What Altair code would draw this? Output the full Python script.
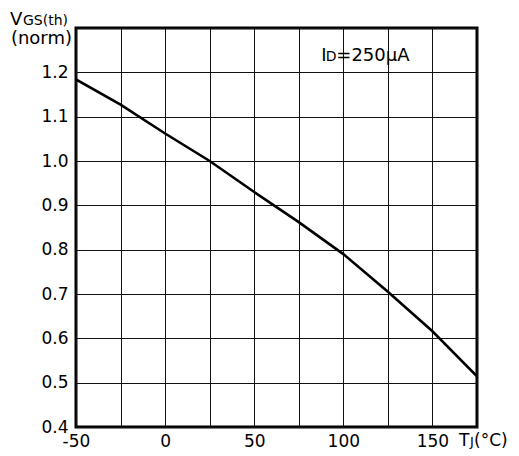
import altair as alt
import pandas as pd

# Data
tj = [-50, -25, 0, 25, 50, 75, 100, 125, 150, 175]
vgs_norm = [1.184, 1.127, 1.062, 1.000, 0.930, 0.862, 0.790, 0.705, 0.616, 0.514]

x_ticks = [-50, -25, 0, 25, 50, 75, 100, 125, 150, 175]
y_ticks = [0.4, 0.5, 0.6, 0.7, 0.8, 0.9, 1.0, 1.1, 1.2, 1.3]

df = pd.DataFrame({"tj": tj, "v": vgs_norm})

FONT = "DejaVu Sans"

xscale = alt.Scale(domain=[-50, 175], nice=False, zero=False)
yscale = alt.Scale(domain=[0.4, 1.3], nice=False, zero=False)

xaxis = alt.Axis(
    values=x_ticks,
    labelExpr="(datum.value % 50 == 0 && datum.value < 175) ? '' + datum.value : ''",
    title=None, grid=True, gridColor="#111111", gridWidth=1, gridOpacity=1,
    domain=False, ticks=False, labelPadding=19, labelBaseline="alphabetic",
    labelFontSize=17, labelFont=FONT, labelColor="black",
    labelFlush=False, labelOverlap=False,
)
yaxis = alt.Axis(
    values=y_ticks,
    labelExpr="datum.value < 1.25 ? format(datum.value, '.1f') : ''",
    title=None, grid=True, gridColor="#111111", gridWidth=1, gridOpacity=1,
    domain=False, ticks=False, labelPadding=8, labelFontSize=17,
    labelFont=FONT, labelColor="black", labelFlush=False, labelOverlap=False,
)

curve = alt.Chart(df).mark_line(color="black", strokeWidth=2.6, clip=True).encode(
    x=alt.X("tj:Q", scale=xscale, axis=xaxis),
    y=alt.Y("v:Q", scale=yscale, axis=yaxis),
)

def txt(s, xv, yv, dx, dy, size, align="left"):
    return alt.Chart(pd.DataFrame({"t": [s]})).mark_text(
        text=s, align=align, baseline="alphabetic", dx=dx, dy=dy,
        fontSize=size, font=FONT, color="black",
    ).encode(x=alt.datum(xv, scale=xscale), y=alt.datum(yv, scale=yscale))

labels = [
    txt("V", -50, 1.3, -66, -3, 18),
    txt("GS(th)", -50, 1.3, -53, -3, 14),
    txt("(norm)", -50, 1.3, -4, 16, 18, align="right"),
    txt("I", 100, 1.3, -22, 33, 18),
    txt("D", 100, 1.3, -17.5, 33, 14),
    txt("=250µA", 100, 1.3, -7, 33, 18),
    txt("T", 175, 0.4, -18, 19, 17),
    txt("J", 175, 0.4, -7, 19, 13),
    txt("(°C)", 175, 0.4, -3, 19, 17),
]

chart = alt.layer(curve, *labels).properties(
    width=401, height=399,
    autosize=alt.AutoSizeParams(type="none"),
    padding={"left": 68, "top": 20, "right": 34, "bottom": 25},
    background="white",
).configure_view(stroke="black", strokeWidth=3)

chart.save("out.html", embed_options={"renderer": "svg", "actions": False})
